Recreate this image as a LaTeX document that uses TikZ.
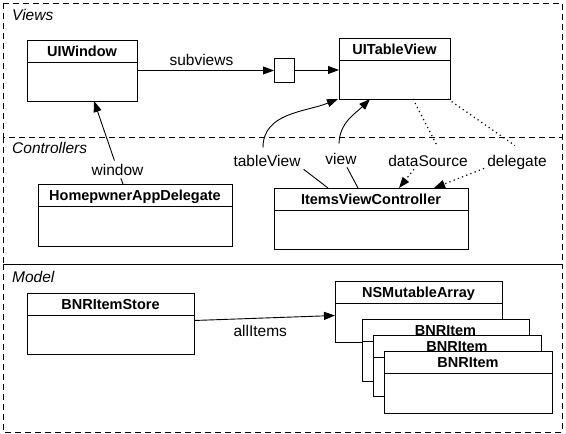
\documentclass[tikz,border=0pt]{standalone}
\usepackage{fontspec}
\setmainfont{Liberation Sans}
\usetikzlibrary{arrows.meta,calc}
\tikzset{
  region/.style={draw, dash pattern=on 6pt off 4pt, line width=0.9pt},
  clsbox/.style={draw, fill=white, anchor=north west, inner sep=0pt, outer sep=0pt, line width=1pt},
  clstitle/.style={font=\fontsize{14.5}{16}\selectfont\bfseries, inner sep=0pt, anchor=base},
  lbl/.style={font=\fontsize{15.5}{17}\selectfont, inner sep=3pt, anchor=base},
  rlbl/.style={font=\fontsize{15.5}{17}\selectfont\itshape, inner sep=0pt, anchor=base west},
  conn/.style={line width=0.9pt},
  arrowconn/.style={conn, -{Triangle[length=11pt,width=8pt]}},
  dotconn/.style={line width=1.2pt, dash pattern=on 1.2pt off 3.3pt},
  dotarrow/.style={dotconn, -{Triangle[length=11pt,width=8pt]}},
}
\newcommand\umlcls[5]{%
  \node[clsbox, minimum width=#3pt, minimum height=#4pt] (#1) at (#2) {};
  \draw[line width=1pt] ([yshift=-22pt]#1.north west) -- ([yshift=-22pt]#1.north east);
  \node[clstitle] (#1-t) at ([yshift=-16.5pt]#1.north) {#5};
}
\begin{document}
\begin{tikzpicture}[x=1pt,y=-1pt]
\useasboundingbox (0,0) rectangle (566,434);
% regions
\draw[region] (3,3) rectangle (562,137);
\draw[region] (3,137) rectangle (562,264);
\draw[region] (3,264) rectangle (562,432);
\node[rlbl] (rv) at (12,20) {Views};
\node[rlbl] (rc) at (12,153) {Controllers};
\node[rlbl] (rm) at (12,282) {Model};

% classes
\umlcls{uiw}{27,40}{110}{61}{UIWindow}
\umlcls{utv}{339,38}{111}{61}{UITableView}
\umlcls{had}{38,184}{194}{62}{HomepwnerAppDelegate}
\umlcls{ivc}{274,188}{194}{61}{ItemsViewController}
\umlcls{store}{27,293}{167}{61}{BNRItemStore}
\umlcls{arr}{335,281}{167}{61}{NSMutableArray}
\umlcls{it1}{362,319}{167}{62}{BNRItem}
\umlcls{it2}{373,335}{168}{61}{BNRItem}
\umlcls{it3}{384,351}{168}{62}{BNRItem}
\node[clsbox, minimum width=20pt, minimum height=24pt] (sq) at (274,58) {};

% views connectors
\draw[arrowconn] (uiw.east) -- node[lbl, pos=0.47, above=1.5pt] (subl) {subviews} (uiw.east -| sq.west);
\draw[arrowconn] (sq.east) -- (sq.east -| utv.west);

% window
\node[lbl] (wl) at (117.5,175) {window};
\draw[conn] ([xshift=-12pt]had.north) -- (wl);
\draw[arrowconn] (wl) -- ([xshift=12pt]uiw.south);

% tableView
\node[lbl] (tvl) at (267,166) {tableView};
\draw[conn] ([xshift=-43pt]ivc.north) -- (tvl.south east);
\draw[arrowconn] ([shift={(-4pt,4pt)}]tvl.north) to[out=90,in=202] ([xshift=-1pt]utv.south west);

% view
\node[lbl] (vl) at (341,164) {view};
\draw[conn] ([xshift=-13pt]ivc.north) -- ([xshift=6pt]vl.south);
\draw[arrowconn] ([shift={(-2pt,6pt)}]vl.north) to[out=88,in=225] ([xshift=-24.5pt]utv.south);

% dataSource
\node[lbl] (dsl) at (428,166) {dataSource};
\draw[dotconn] ([xshift=18.5pt]utv.south) -- ([shift={(9pt,6pt)}]dsl.north);
\draw[dotarrow] ([xshift=-14pt]dsl.south) -- ([xshift=28pt]ivc.north);

% delegate
\node[lbl] (dgl) at (517,166) {delegate};
\draw[dotconn] ([xshift=-2pt]utv.south east) -- ([shift={(-2pt,6pt)}]dgl.north);
\draw[dotarrow] ([yshift=4pt]dgl.south west) -- ([xshift=63pt]ivc.north);

% allItems
\draw[arrowconn] ([yshift=3pt]store.east) -- node[lbl, pos=0.47, below=4pt] (ail) {allItems} ([yshift=-4pt]arr.west);
\end{tikzpicture}
\end{document}
